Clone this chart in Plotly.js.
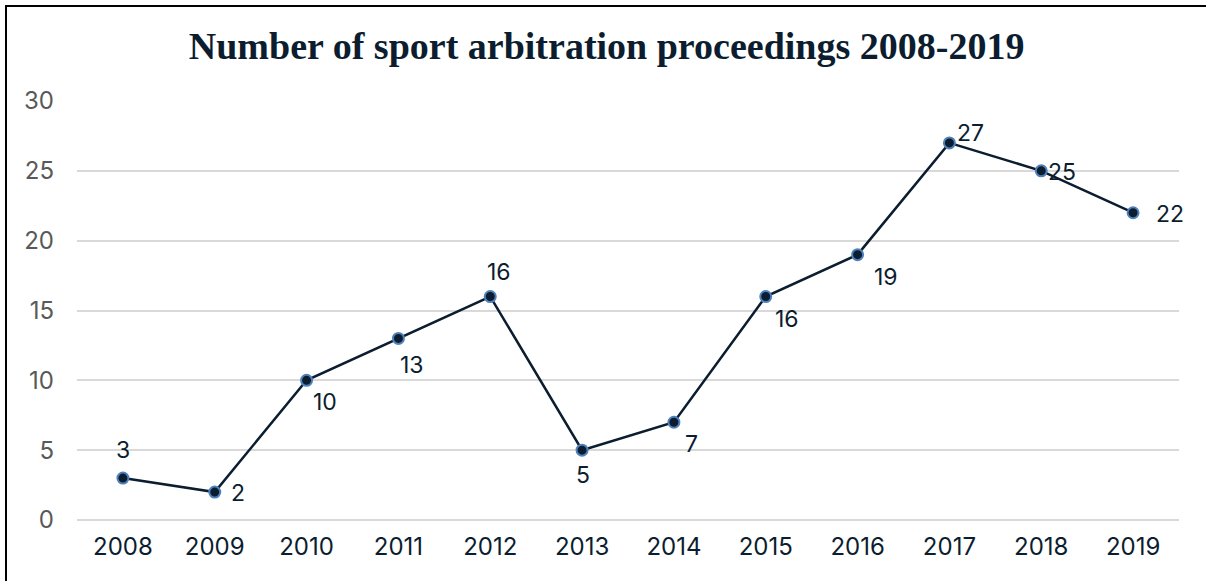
<!DOCTYPE html>
<html>
<head>
<meta charset="utf-8">
<script src="https://cdn.plot.ly/plotly-3.0.1.min.js"></script>
<style>
html,body{margin:0;padding:0;background:#fff;}
#chart{position:absolute;left:0;top:0;width:1206px;height:581px;}
#frame{position:absolute;left:5px;top:5px;width:1210px;height:590px;border-left:2.5px solid #000;border-top:2.5px solid #000;pointer-events:none;}
</style>
</head>
<body>
<div id="chart"></div>
<div id="frame"></div>
<script>
const years = ['2008','2009','2010','2011','2012','2013','2014','2015','2016','2017','2018','2019'];
const proceedings = [3, 2, 10, 13, 16, 5, 7, 16, 19, 27, 25, 22];
// label offsets (px) relative to each point, as in the reference
const labelDx = [0, 23, 18, 14, 9, 1, 18, 21, 28, 21, 21, 37];
const labelDy = [28, -1, -22, -27, 25, -25, -22, -22, -22, 10, -1, -1];

const navy = '#0b1d2e';
const sans = 'Inter, Liberation Sans, Arial, sans-serif';

const trace = {
  type: 'scatter',
  mode: 'lines+markers',
  x: years,
  y: proceedings,
  line: {color: navy, width: 2.5},
  marker: {size: 11, color: navy, line: {color: '#4f81bd', width: 2}},
  cliponaxis: false,
  hoverinfo: 'x+y'
};

// on a category axis, annotations are placed by category index
const annotations = years.map((yr, i) => ({
  x: i, y: proceedings[i], xref: 'x', yref: 'y',
  text: String(proceedings[i]),
  showarrow: false,
  xanchor: 'center', yanchor: 'middle',
  xshift: labelDx[i], yshift: labelDy[i],
  font: {family: sans, size: 23, color: navy}
}));

const layout = {
  width: 1206,
  height: 581,
  margin: {l: 77, r: 27, t: 101, b: 61},
  paper_bgcolor: '#ffffff',
  plot_bgcolor: '#ffffff',
  showlegend: false,
  annotations: annotations,
  title: {
    text: '<b>Number of sport arbitration proceedings 2008-2019</b>',
    x: 0.503, xanchor: 'center',
    y: 0.922, yanchor: 'middle',
    font: {family: 'Liberation Serif, Georgia, serif', size: 38, color: navy}
  },
  xaxis: {
    type: 'category',
    range: [-0.5, 11.5],
    showgrid: false,
    zeroline: false,
    showline: false,
    ticks: '',
    tickfont: {family: sans, size: 24, color: navy},
    ticklabelstandoff: 10
  },
  yaxis: {
    range: [0, 30],
    dtick: 5,
    showgrid: true,
    gridcolor: '#d9d9d9',
    gridwidth: 1.5,
    zeroline: true,
    zerolinecolor: '#d9d9d9',
    zerolinewidth: 1.5,
    showline: false,
    ticks: '',
    tickfont: {family: sans, size: 24, color: '#595959'},
    ticklabelstandoff: 22
  }
};

Plotly.newPlot('chart', [trace], layout, {displayModeBar: false});
</script>
</body>
</html>
